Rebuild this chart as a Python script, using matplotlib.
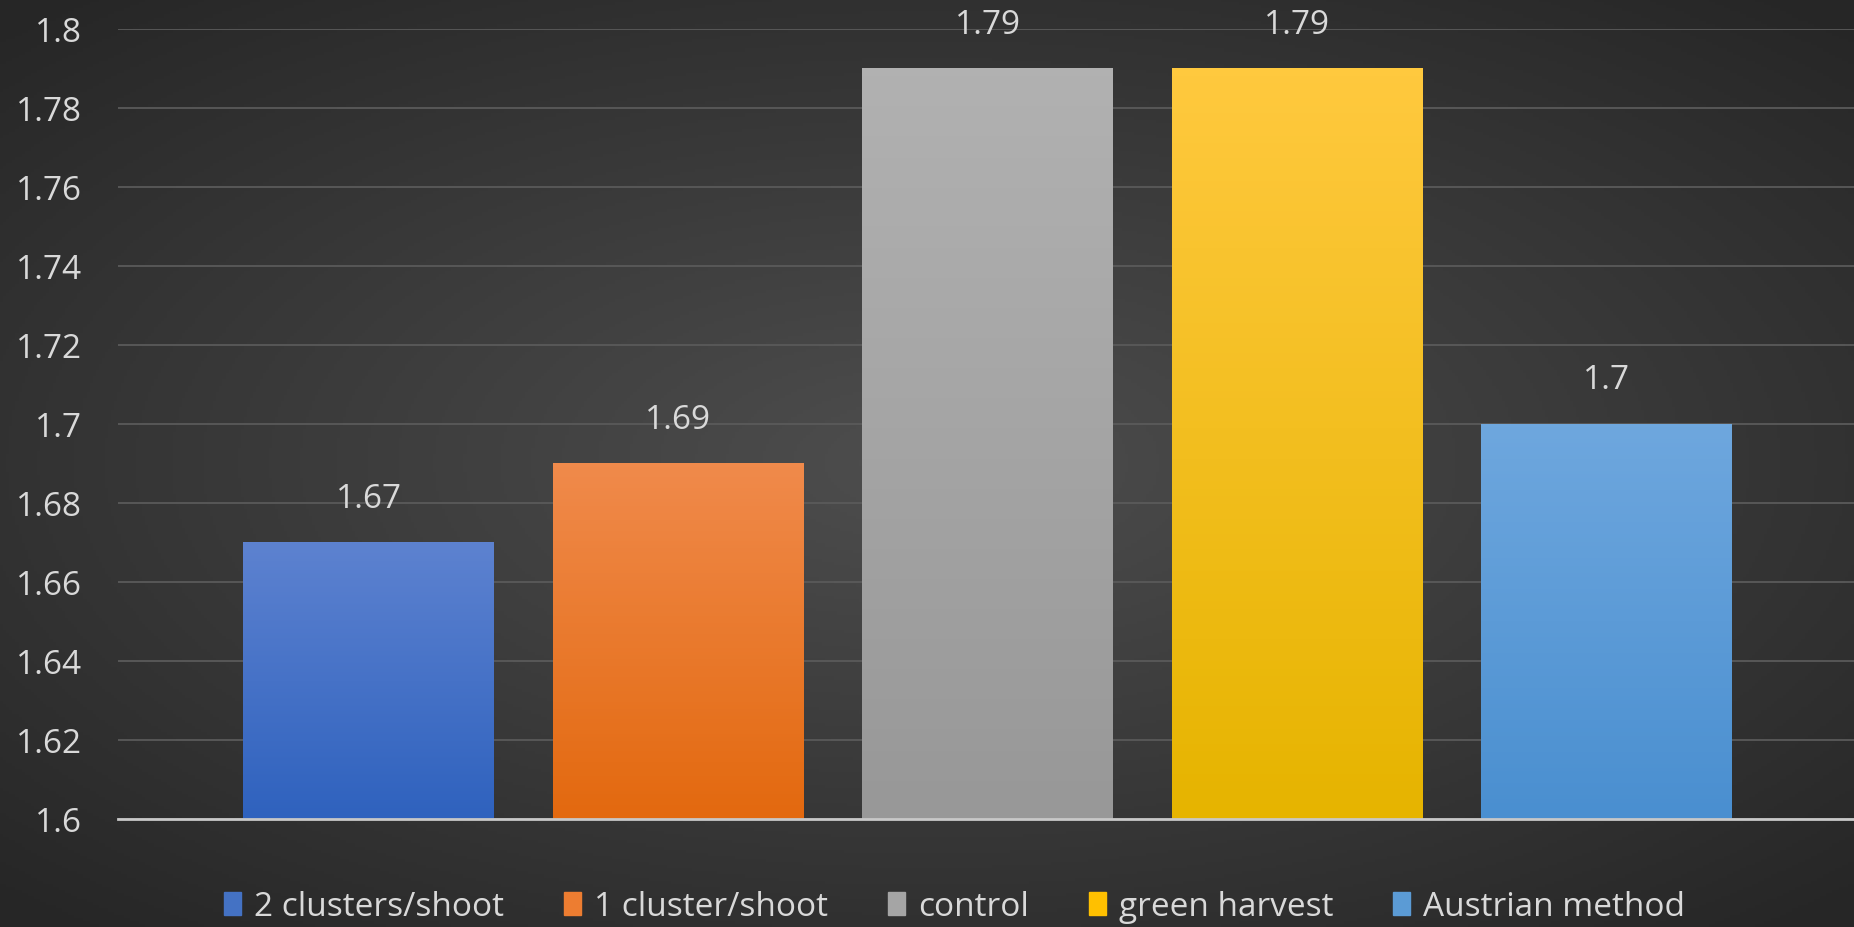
import matplotlib.pyplot as plt
import numpy as np
from matplotlib.colors import LinearSegmentedColormap

plt.rcParams['font.family'] = ['Open Sans', 'DejaVu Sans']

# chart data
categories = ["2 clusters/shoot", "1 cluster/shoot", "control", "green harvest", "Austrian method"]
values = [1.67, 1.69, 1.79, 1.79, 1.70]
y_ticks = [1.6, 1.62, 1.64, 1.66, 1.68, 1.7, 1.72, 1.74, 1.76, 1.78, 1.8]
y_tick_labels = ["1.6", "1.62", "1.64", "1.66", "1.68", "1.7", "1.72", "1.74", "1.76", "1.78", "1.8"]

# base colours + gradient (top, bottom) per bar
base_colors = ["#4472c4", "#ed7d31", "#a5a5a5", "#ffc000", "#5b9bd5"]
grad_colors = [("#5d82d0", "#2f62be"), ("#f08a4b", "#e3690f"), ("#b1b1b1", "#989898"),
               ("#ffc93e", "#e6b400"), ("#6ea7de", "#4a8fd0")]
text_col = "#d9d9d9"

fig = plt.figure(figsize=(18.54, 9.28), dpi=100)

# radial dark background
bg = fig.add_axes([0, 0, 1, 1], zorder=-10)
yy, xx = np.mgrid[-1:1:300j, -1:1:600j]
r = np.sqrt((xx * 0.95) ** 2 + (yy * 1.0) ** 2)
bg_cmap = LinearSegmentedColormap.from_list("bg", ["#4e4e4e", "#3a3a3a", "#262626"])
bg.imshow(r, cmap=bg_cmap, aspect="auto", extent=[0, 1, 0, 1], vmin=0, vmax=1.35)
bg.axis("off")

ax = fig.add_axes([0.0636, 0.1164, 0.9364, 0.8513])
ax.set_facecolor("none")

x = np.arange(len(categories))
bars = ax.bar(x, [v - 1.6 for v in values], bottom=1.6, width=0.81,
              color=base_colors, zorder=2)

# gradient fill on each bar
for rect, (top, bot) in zip(bars, grad_colors):
    cm = LinearSegmentedColormap.from_list("g", [bot, top])
    x0, w = rect.get_x(), rect.get_width()
    y0, h = rect.get_y(), rect.get_height()
    im = ax.imshow(np.linspace(0, 1, 100).reshape(-1, 1), cmap=cm, origin="lower",
                   aspect="auto", extent=[x0, x0 + w, y0, y0 + h], zorder=3)
    im.set_clip_path(rect)

for xi, v in zip(x, values):
    ax.annotate(f"{v:g}", (xi, v), xytext=(0, 32), textcoords="offset points",
                ha="center", va="center", fontsize=24, color=text_col)

ax.set_xlim(-0.81, 4.80)
ax.set_ylim(1.6, 1.8)
ax.set_yticks(y_ticks)
ax.set_yticklabels(y_tick_labels)
ax.set_xticks([])
ax.tick_params(axis="y", length=0, pad=26, labelsize=24, labelcolor=text_col)
ax.grid(axis="y", color="#5a5a5a", linewidth=1.3, zorder=0)
ax.set_axisbelow(True)
for s in ["top", "right", "left"]:
    ax.spines[s].set_visible(False)
ax.spines["bottom"].set_color("#c8c8c8")
ax.spines["bottom"].set_linewidth(2)
ax.spines["bottom"].set_zorder(4)

handles = [plt.Rectangle((0, 0), 1, 1, color=c) for c in base_colors]
leg = fig.legend(handles, categories, loc="center", bbox_to_anchor=(0.515, 0.022),
                 ncol=5, frameon=False, fontsize=24, handlelength=0.5, handleheight=0.7,
                 handletextpad=0.4, columnspacing=1.8)
for t in leg.get_texts():
    t.set_color(text_col)

plt.savefig("out.png", dpi=100)
